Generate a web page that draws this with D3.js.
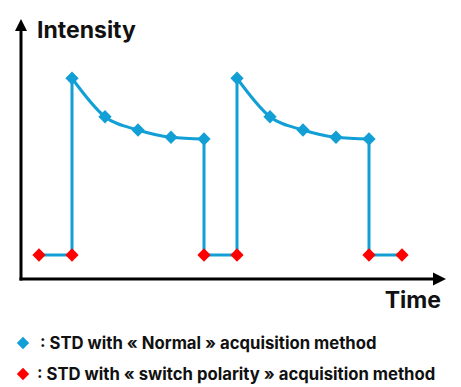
<!DOCTYPE html>
<html><head><meta charset="utf-8">
<script src="https://cdn.jsdelivr.net/npm/d3@7"></script>
<style>html,body{margin:0;padding:0;background:#fff;}svg{display:block;}</style>
</head><body>
<svg id="c" width="461" height="387"></svg>
<script>
// Data
const redTime = [0, 1, 5, 6, 10, 11];
const redValue = [1, 1, 1, 1, 1, 1];
const cycle1Time = [1, 2, 3, 4, 5];
const cycle2Time = [6, 7, 8, 9, 10];
const decayValue = [8.07, 6.53, 6.0, 5.71, 5.64];
const baseValue = 1;
const axisLabels = ["Intensity", "Time"];
const legendLabels = [": STD with \u00AB Normal \u00BB acquisition method", ": STD with \u00AB switch polarity \u00BB acquisition method"];

const blue = "#129fd6", red = "#ff0000";
const svg = d3.select("#c");
const x = d3.scaleLinear().domain([0, 11]).range([39, 402]);
const y = d3.scaleLinear().domain([0, 10]).range([280, 30]);

// Axes with arrows
const axY0 = y(0) - 1;
svg.append("line").attr("x1", 21).attr("x2", 21).attr("y1", axY0 + 1.5).attr("y2", 29)
  .attr("stroke", "#000").attr("stroke-width", 3);
svg.append("path").attr("d", "M21,19 L15,31 L27,31 Z").attr("fill", "#000");
svg.append("line").attr("x1", 19.5).attr("x2", 435).attr("y1", axY0).attr("y2", axY0)
  .attr("stroke", "#000").attr("stroke-width", 3);
svg.append("path").attr("d", `M446,${axY0} L433,${axY0-6.5} L433,${axY0+6.5} Z`).attr("fill", "#000");

svg.append("text").attr("x", 37).attr("y", 38).text(axisLabels[0])
  .attr("font-family", "Inter, 'Open Sans', sans-serif").attr("font-weight", 700).attr("font-size", 23).attr("fill", "#111");
svg.append("text").attr("x", 441).attr("y", 308).attr("text-anchor", "end").text(axisLabels[1])
  .attr("font-family", "Inter, 'Open Sans', sans-serif").attr("font-weight", 700).attr("font-size", 23).attr("fill", "#111");

// Lines
const lin = d3.line().x(d => x(d[0])).y(d => y(d[1]));
const curve = d3.line().x(d => x(d[0])).y(d => y(d[1])).curve(d3.curveMonotoneX);
const c1 = cycle1Time.map((t, i) => [t, decayValue[i]]);
const c2 = cycle2Time.map((t, i) => [t, decayValue[i]]);
const steps = [
  [[redTime[0], baseValue], [redTime[1], baseValue], c1[0]],
  [c1[4], [redTime[2], baseValue], [redTime[3], baseValue], c2[0]],
  [c2[4], [redTime[4], baseValue], [redTime[5], baseValue]]
];
const g = svg.append("g").attr("fill", "none").attr("stroke", blue).attr("stroke-width", 3);
steps.forEach(s => g.append("path").attr("d", lin(s)));
[c1, c2].forEach(c => g.append("path").attr("d", curve(c)));

// Markers
const dia = d3.symbol().type(d3.symbolSquare).size(88);
svg.selectAll(".b").data(c1.concat(c2)).join("path")
  .attr("d", dia).attr("fill", blue)
  .attr("transform", d => `translate(${x(d[0])},${y(d[1])}) rotate(45)`);
svg.selectAll(".r").data(redTime.map((t, i) => [t, redValue[i]])).join("path")
  .attr("d", dia).attr("fill", red)
  .attr("transform", d => `translate(${x(d[0])},${y(d[1])}) rotate(45)`);

// Legend
const leg = [[blue, 343, legendLabels[0], 40], [red, 374, legendLabels[1], 37]];
leg.forEach(([col, yy, txt, tx]) => {
  svg.append("path").attr("d", d3.symbol().type(d3.symbolSquare).size(76)).attr("fill", col)
    .attr("transform", `translate(23,${yy}) rotate(45)`);
  svg.append("text").attr("x", tx).attr("y", yy + 5.5).text(txt)
    .attr("font-family", "Inter, 'Open Sans', sans-serif").attr("font-weight", 700).attr("font-size", 16.7).attr("fill", "#111");
});
</script>
</body></html>
